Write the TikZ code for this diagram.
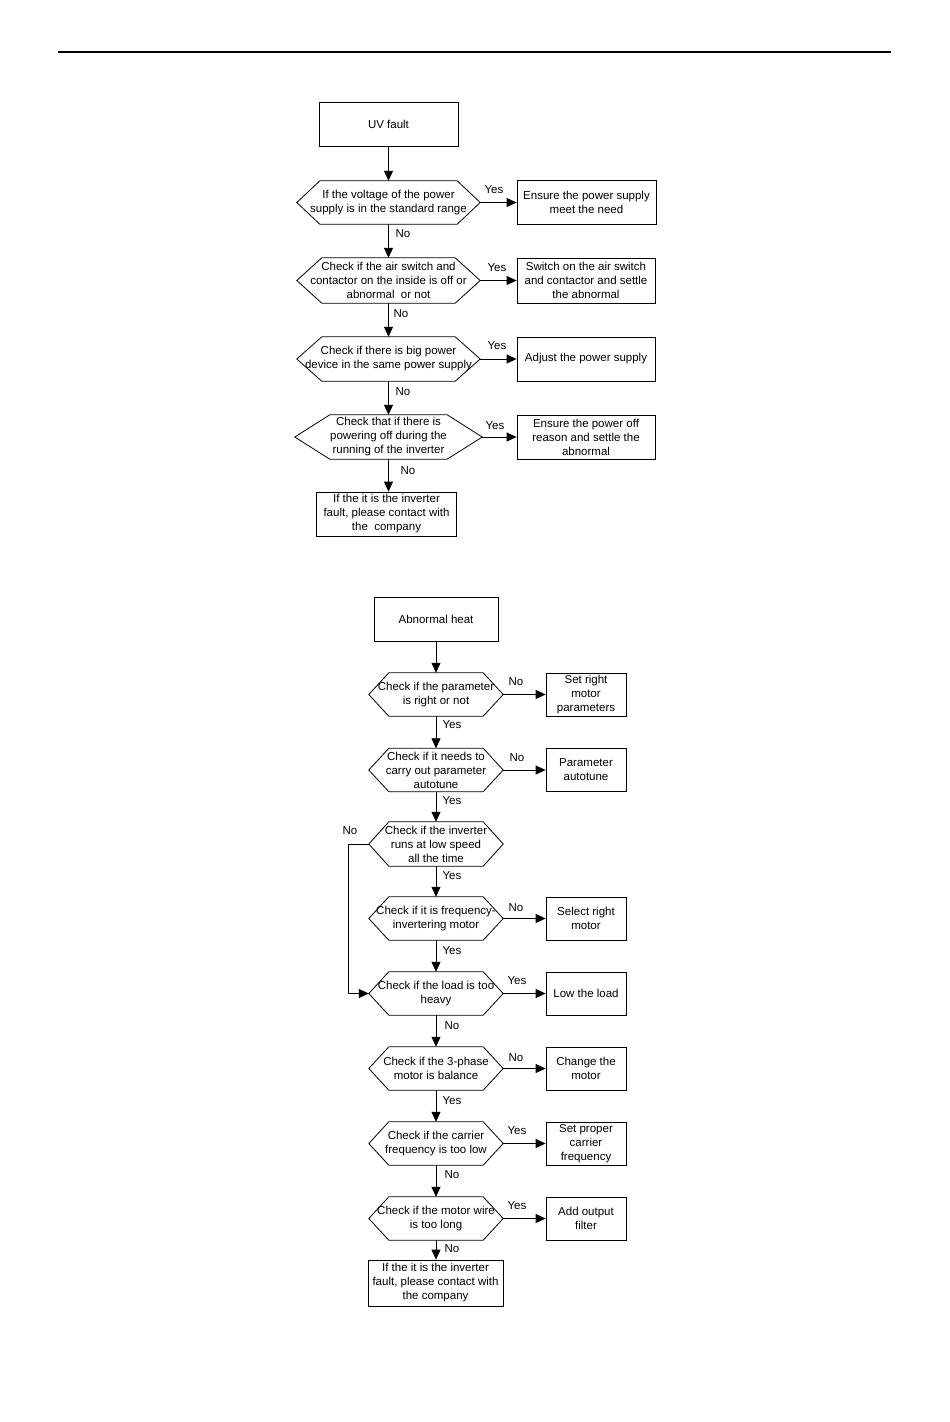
\documentclass[tikz,border=0pt]{standalone}
\usepackage{fontspec}
\setmainfont{Liberation Sans}
\usetikzlibrary{arrows.meta}
\newcommand\hexdraw[2]{\draw[line width=0.8pt] (#1.west) -- ([xshift=#2]#1.north west) -- ([xshift=-#2]#1.north east) -- (#1.east) -- ([xshift=-#2]#1.south east) -- ([xshift=#2]#1.south west) -- cycle;}
\begin{document}
\begin{tikzpicture}[x=1pt,y=-1pt,
  txt/.style={font=\fontsize{11.5}{14}\selectfont, align=center, inner sep=0pt},
  box/.style={txt, draw, line width=0.8pt},
  hex/.style={txt},
  lbl/.style={font=\fontsize{11.5}{14}\selectfont, inner sep=0pt},
  arr/.style={line width=0.8pt, -{Triangle[length=10pt,width=9pt]}},
  ln/.style={line width=0.8pt}
]
\fill[white] (0,0) rectangle (950,1422);
\useasboundingbox (0,0) rectangle (950,1422);
\draw[line width=1.6pt] (58,52) -- (891,52);

% ---------- top chart ----------
\node[box, minimum width=139, minimum height=44] (t0) at (388.5,124) {UV fault};
\node[hex, minimum width=183, minimum height=43] (t1) at (388.5,202.5) {If the voltage of the power\\supply is in the standard range};
\node[box, minimum width=139, minimum height=44] (r1) at (586.5,202.5) {Ensure the power supply\\meet the need};
\node[hex, minimum width=183, minimum height=45] (t2) at (388.5,280.5) {Check if the air switch and\\contactor on the inside is off or\\abnormal\ \ or not};
\node[box, minimum width=138, minimum height=45] (r2) at (586,280.5) {Switch on the air switch\\and contactor and settle\\the abnormal};
\node[hex, minimum width=183, minimum height=44] (t3) at (388.5,359) {Check if there is big power\\device in the same power supply};
\node[box, minimum width=138, minimum height=44] (r3) at (586,359) {Adjust the power supply};
\node[hex, minimum width=187, minimum height=44] (t4) at (388.5,437) {Check that if there is\\powering off during the\\running of the inverter};
\node[box, minimum width=138, minimum height=44] (r4) at (586,437) {Ensure the power off\\reason and settle the\\abnormal};
\node[box, minimum width=140, minimum height=44] (t5) at (386.5,514) {If the it is the inverter\\fault, please contact with\\the\ \ company};
\hexdraw{t1}{23}
\hexdraw{t2}{25}
\hexdraw{t3}{25}
\hexdraw{t4}{35}

\draw[arr] (t0.south) -- (t1.north);
\draw[arr] (t1.south) -- (t2.north);
\draw[arr] (t2.south) -- (t3.north);
\draw[arr] (t3.south) -- (t4.north);
\draw[arr] (t4.south) -- (t4.south |- t5.north);
\draw[arr] (t1.east) -- (t1.east -| r1.west);
\draw[arr] (t2.east) -- (t2.east -| r2.west);
\draw[arr] (t3.east) -- (t3.east -| r3.west);
\draw[arr] (t4.east) -- (t4.east -| r4.west);

\node[lbl] (ty1) at (494,190) {Yes};
\node[lbl] (tn1) at (403,234) {No};
\node[lbl] (ty2) at (497,268) {Yes};
\node[lbl] (tn2) at (401,314) {No};
\node[lbl] (ty3) at (497,346) {Yes};
\node[lbl] (tn3) at (403,392) {No};
\node[lbl] (ty4) at (495,426) {Yes};
\node[lbl] (tn4) at (408,471) {No};

% ---------- bottom chart ----------
\node[box, minimum width=124, minimum height=44] (b0) at (436,619) {Abnormal heat};
\node[hex, minimum width=134, minimum height=43] (b1) at (436,694.5) {Check if the parameter\\is right or not};
\node[box, minimum width=80, minimum height=43] (c1) at (586,694.5) {Set right\\motor\\parameters};
\node[hex, minimum width=134, minimum height=43] (b2) at (436,770) {Check if it needs to\\carry out parameter\\autotune};
\node[box, minimum width=80, minimum height=43] (c2) at (586,770) {Parameter\\autotune};
\node[hex, minimum width=134, minimum height=44] (b3) at (436,844) {Check if the inverter\\runs at low speed\\all the time};
\node[hex, minimum width=134, minimum height=43] (b4) at (436,918.5) {Check if it is frequency-\\invertering motor};
\node[box, minimum width=80, minimum height=43] (c4) at (586,918.5) {Select right\\motor};
\node[hex, minimum width=134, minimum height=43] (b5) at (436,993.5) {Check if the load is too\\heavy};
\node[box, minimum width=80, minimum height=43] (c5) at (586,993.5) {Low the load};
\node[hex, minimum width=134, minimum height=43] (b6) at (436,1068.5) {Check if the 3-phase\\motor is balance};
\node[box, minimum width=80, minimum height=43] (c6) at (586,1068.5) {Change the\\motor};
\node[hex, minimum width=134, minimum height=43] (b7) at (436,1143.5) {Check if the carrier\\frequency is too low};
\node[box, minimum width=80, minimum height=43] (c7) at (586,1143.5) {Set proper\\carrier\\frequency};
\node[hex, minimum width=134, minimum height=43] (b8) at (436,1218.5) {Check if the motor wire\\is too long};
\node[box, minimum width=80, minimum height=43] (c8) at (586,1218.5) {Add output\\filter};
\node[box, minimum width=135, minimum height=46] (b9) at (435.5,1283) {If the it is the inverter\\fault, please contact with\\the company};
\foreach \n in {b1,b2,b3,b4,b5,b6,b7,b8}{\hexdraw{\n}{20}}

\draw[arr] (b0.south) -- (b1.north);
\foreach \a/\b in {b1/b2,b2/b3,b3/b4,b4/b5,b5/b6,b6/b7,b7/b8}{\draw[arr] (\a.south) -- (\b.north);}
\draw[arr] (b8.south) -- (b8.south |- b9.north);
\foreach \a/\b in {b1/c1,b2/c2,b4/c4,b5/c5,b6/c6,b7/c7,b8/c8}{\draw[arr] (\a.east) -- (\a.east -| \b.west);}
\coordinate (lp) at (348,844);
\draw[arr] (b3.west) -- (lp) |- (b5.west);

\node[lbl] (bn1) at (516,682) {No};
\node[lbl] (by1) at (452,725) {Yes};
\node[lbl] (bn2) at (517,758) {No};
\node[lbl] (by2) at (452,801) {Yes};
\node[lbl] (bn3) at (350,831) {No};
\node[lbl] (by3) at (452,876) {Yes};
\node[lbl] (bn4) at (516,908) {No};
\node[lbl] (by4) at (452,951) {Yes};
\node[lbl] (by5) at (517,981) {Yes};
\node[lbl] (bn5) at (452,1026) {No};
\node[lbl] (bn6) at (516,1058) {No};
\node[lbl] (by6) at (452,1101) {Yes};
\node[lbl] (by7) at (517,1131) {Yes};
\node[lbl] (bn7) at (452,1175) {No};
\node[lbl] (by8) at (517,1206) {Yes};
\node[lbl] (bn8) at (452,1249) {No};
\end{tikzpicture}
\end{document}
